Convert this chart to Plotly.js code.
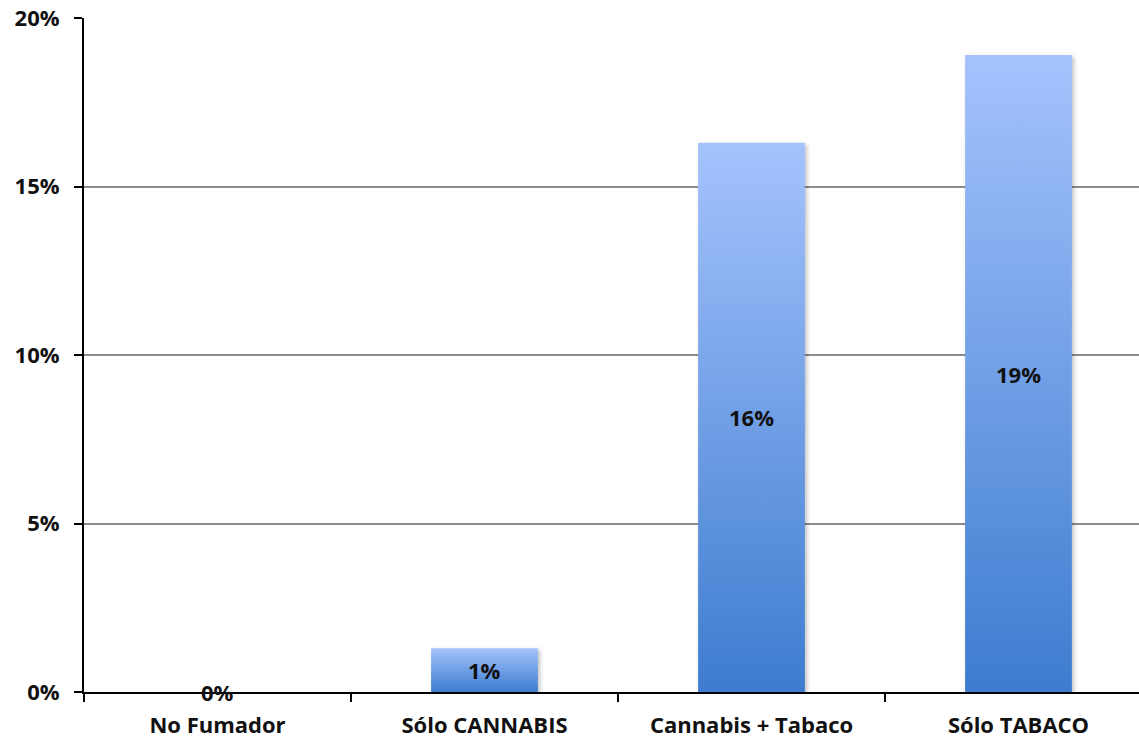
<!DOCTYPE html>
<html>
<head>
<meta charset="utf-8">
<script src="https://cdn.plot.ly/plotly-3.0.1.min.js"></script>
<style>
html,body{margin:0;padding:0;overflow:hidden;background:#fff;}
#chart{width:1160px;height:739px;}
</style>
</head>
<body>
<div id="chart"></div>
<script>
// Data
var categories = ["No Fumador", "Sólo CANNABIS", "Cannabis + Tabaco", "Sólo TABACO"];
var values = [0, 0.013, 0.163, 0.189];
var valueLabels = ["0%", "1%", "16%", "19%"];
var yTickValues = [0, 0.05, 0.10, 0.15, 0.20];
var yTickLabels = ["0%", "5%", "10%", "15%", "20%"];

var FONT = "'Open Sans', Lato, 'Liberation Sans', sans-serif";
var TXT = {family: FONT, size: 22, color: "#111111", weight: "bold"};

var barTrace = {
  type: "bar",
  x: categories,
  y: values,
  width: 0.4,
  marker: {color: "#6f9ee6", line: {width: 0}},
  hoverinfo: "skip",
  showlegend: false
};

var annotations = categories.map(function(c, i){
  return {
    x: c, y: values[i] / 2, xref: "x", yref: "y",
    text: valueLabels[i], showarrow: false, yshift: 0,
    font: TXT
  };
});

var layout = {
  width: 1160,
  height: 739,
  margin: {l: 84, r: 8, t: 18, b: 47},
  paper_bgcolor: "#ffffff",
  plot_bgcolor: "#ffffff",
  font: TXT,
  bargap: 0.6,
  annotations: annotations,
  xaxis: {
    type: "category",
    range: [-0.5, 3.5],
    showline: true,
    linecolor: "#000000",
    linewidth: 2,
    ticks: "outside",
    tickson: "boundaries",
    ticklen: 8,
    tickwidth: 2,
    tickcolor: "#000000",
    showgrid: false,
    zeroline: false,
    ticklabelstandoff: 13,
    tickfont: TXT
  },
  yaxis: {
    range: [0, 0.20],
    tickvals: yTickValues,
    ticktext: yTickLabels,
    showline: true,
    linecolor: "#000000",
    linewidth: 2,
    ticks: "outside",
    ticklen: 8,
    tickwidth: 2,
    tickcolor: "#000000",
    showgrid: true,
    gridcolor: "#8c8c8c",
    gridwidth: 2,
    zeroline: false,
    ticklabelstandoff: 10,
    tickfont: TXT
  }
};

Plotly.newPlot("chart", [barTrace], layout, {staticPlot: true, displayModeBar: false}).then(function(gd){
  var svg = gd.querySelector("svg.main-svg");
  var ns = "http://www.w3.org/2000/svg";
  var defs = svg.querySelector("defs");
  if (!defs) { defs = document.createElementNS(ns, "defs"); svg.insertBefore(defs, svg.firstChild); }
  var grad = document.createElementNS(ns, "linearGradient");
  grad.setAttribute("id", "barGrad");
  grad.setAttribute("x1", "0"); grad.setAttribute("y1", "0");
  grad.setAttribute("x2", "0"); grad.setAttribute("y2", "1");
  [["0%", "#a5c3fd"], ["100%", "#3d7ccf"]].forEach(function(s){
    var st = document.createElementNS(ns, "stop");
    st.setAttribute("offset", s[0]);
    st.setAttribute("stop-color", s[1]);
    grad.appendChild(st);
  });
  defs.appendChild(grad);
  gd.querySelectorAll(".barlayer .point path").forEach(function(p){
    p.style.fill = "url(#barGrad)";
    p.style.filter = "drop-shadow(2px 2px 2px rgba(0,0,0,0.25))";
  });
});
</script>
</body>
</html>
